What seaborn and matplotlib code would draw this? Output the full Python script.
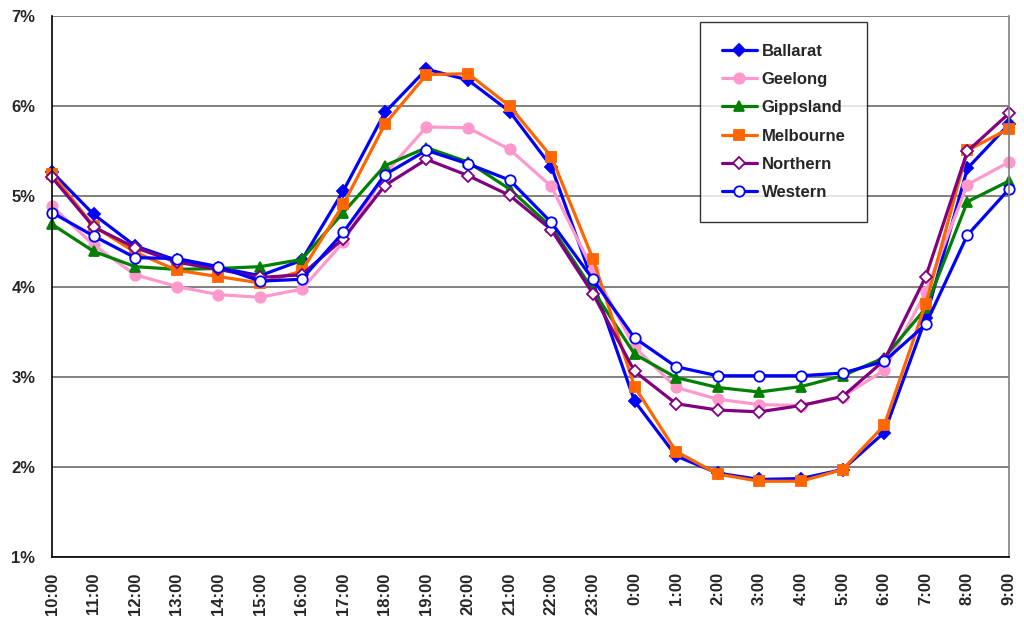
import pandas as pd
import matplotlib
matplotlib.use("Agg")
import matplotlib.pyplot as plt
import seaborn as sns

# 时间段（从10:00到次日9:00）
hours = ["10:00", "11:00", "12:00", "13:00", "14:00", "15:00", "16:00", "17:00",
         "18:00", "19:00", "20:00", "21:00", "22:00", "23:00", "0:00", "1:00",
         "2:00", "3:00", "4:00", "5:00", "6:00", "7:00", "8:00", "9:00"]

# 各地区每小时占比（%）
ballarat = [5.27, 4.80, 4.45, 4.29, 4.21, 4.12, 4.29, 5.06, 5.93, 6.41, 6.29, 5.94,
            5.33, 4.05, 2.73, 2.12, 1.93, 1.86, 1.87, 1.97, 2.38, 3.65, 5.31, 5.80]
geelong = [4.89, 4.46, 4.13, 4.00, 3.91, 3.88, 3.97, 4.49, 5.25, 5.77, 5.76, 5.52,
           5.11, 4.18, 3.33, 2.88, 2.75, 2.69, 2.68, 2.78, 3.07, 3.94, 5.13, 5.38]
gippsland = [4.69, 4.39, 4.22, 4.19, 4.20, 4.22, 4.30, 4.82, 5.34, 5.54, 5.38, 5.08,
             4.66, 3.96, 3.25, 2.99, 2.88, 2.83, 2.89, 3.01, 3.21, 3.76, 4.94, 5.17]
melbourne = [5.25, 4.67, 4.38, 4.18, 4.11, 4.04, 4.17, 4.91, 5.80, 6.35, 6.36, 6.00,
             5.44, 4.31, 2.89, 2.17, 1.92, 1.84, 1.84, 1.97, 2.46, 3.81, 5.51, 5.75]
northern = [5.21, 4.66, 4.43, 4.27, 4.19, 4.10, 4.13, 4.53, 5.12, 5.41, 5.23, 5.01,
            4.63, 3.92, 3.06, 2.70, 2.63, 2.61, 2.68, 2.78, 3.18, 4.11, 5.50, 5.92]
western = [4.82, 4.56, 4.32, 4.31, 4.22, 4.06, 4.08, 4.60, 5.24, 5.51, 5.36, 5.18,
           4.71, 4.08, 3.43, 3.11, 3.01, 3.01, 3.01, 3.04, 3.17, 3.58, 4.57, 5.08]

series = {
    "Ballarat": ballarat,
    "Geelong": geelong,
    "Gippsland": gippsland,
    "Melbourne": melbourne,
    "Northern": northern,
    "Western": western,
}

# 样式：颜色、标记、标记填充色、标记大小
styles = {
    "Ballarat": ("#0000FF", "D", "#0000FF", 6.5),
    "Geelong": ("#FF99CC", "o", "#FF99CC", 7.5),
    "Gippsland": ("#008000", "^", "#008000", 7.5),
    "Melbourne": ("#FF6600", "s", "#FF6600", 7.5),
    "Northern": ("#800080", "D", "white", 6),
    "Western": ("#0000FF", "o", "white", 7.5),
}

sns.set_style("white")
plt.rcParams['font.family'] = ['Liberation Sans', 'DejaVu Sans']
plt.rcParams['font.weight'] = 'bold'

fig = plt.figure(figsize=(10.24, 6.2), dpi=100)
ax = fig.add_axes([52 / 1024, 1 - 557 / 620, (1009 - 52) / 1024, (557 - 16) / 620])

for name, vals in series.items():
    color, marker, face, ms = styles[name]
    df = pd.DataFrame({"hour": hours, "pct": vals})
    sns.lineplot(data=df, x="hour", y="pct", ax=ax, sort=False, color=color,
                 marker=marker, markerfacecolor=face, markeredgecolor=color,
                 markeredgewidth=1.3, markersize=ms, linewidth=2.3,
                 label=name, clip_on=False)

ax.set_xlim(0, len(hours) - 1)
ax.set_ylim(1, 7)
ax.set_xlabel("")
ax.set_ylabel("")

# 纵坐标刻度
ax.set_yticks(range(1, 8))
ax.set_yticklabels([f"{v}%" for v in range(1, 8)], fontsize=12, fontweight='bold')
ax.yaxis.grid(True, color="#808080", linewidth=1.4)
ax.set_axisbelow(True)

# 横坐标标签（每小时一个），刻度线每三小时一个
ax.set_xticks(range(len(hours)))
ax.set_xticklabels(hours, rotation=90, fontsize=12, fontweight='bold')
ax.set_xticks(range(0, len(hours), 3), minor=True)
ax.tick_params(axis='x', which='major', length=0, pad=11)
ax.tick_params(axis='x', which='minor', length=6, width=1, color='black', direction='out')
ax.tick_params(axis='y', length=6, width=1, color='black', direction='out', pad=6)

ax.spines['top'].set_visible(False)
ax.spines['left'].set_color('black')
ax.spines['bottom'].set_color('black')
ax.spines['right'].set_color('#808080')
for s in ['left', 'bottom', 'right']:
    ax.spines[s].set_linewidth(1.2)

leg = ax.legend(loc='upper left', bbox_to_anchor=(0.677, 0.989), borderaxespad=0,
                frameon=True, fancybox=False, edgecolor='black',
                labelspacing=0.8, handlelength=2.1, handletextpad=0.3, borderpad=1.3,
                prop={'weight': 'bold', 'size': 12})
leg.get_frame().set_linewidth(1.0)

fig.savefig("out.png", dpi=100)
